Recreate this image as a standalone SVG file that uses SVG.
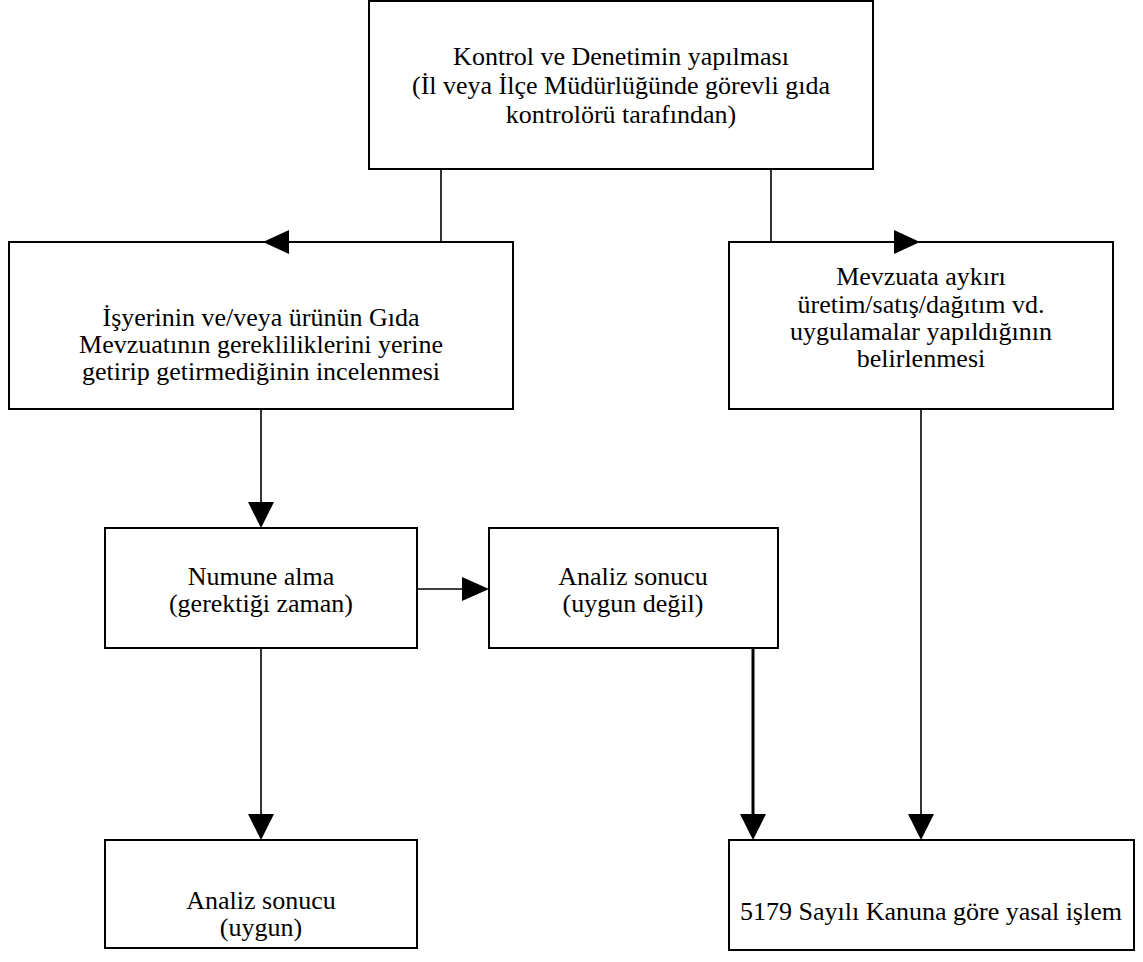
<svg xmlns="http://www.w3.org/2000/svg" width="1143" height="962" viewBox="0 0 1143 962">
  <defs>
    <style>
      .box { fill: #fff; stroke: #000; stroke-width: 2; }
      .lbl { font-family: "Liberation Serif", "Times New Roman", serif; font-size: 26px; fill: #000; text-anchor: middle; }
      .wire { fill: none; stroke: #000; stroke-width: 1.6; }
      .wire-bold { fill: none; stroke: #000; stroke-width: 3; }
      .head { fill: #000; stroke: none; }
    </style>
  </defs>

  <rect width="1143" height="962" fill="#fff"/>

  <g id="node-kontrol">
    <rect class="box" x="369" y="1" width="504" height="168"/>
    <text class="lbl" x="621" y="65">Kontrol ve Denetimin yapılması</text>
    <text class="lbl" x="621" y="94">(İl veya İlçe Müdürlüğünde görevli gıda</text>
    <text class="lbl" x="621" y="123">kontrolörü tarafından)</text>
  </g>

  <g id="node-inceleme">
    <rect class="box" x="9" y="242" width="504" height="167"/>
    <text class="lbl" x="261" y="326">İşyerinin ve/veya ürünün Gıda</text>
    <text class="lbl" x="261" y="353">Mevzuatının gerekliliklerini yerine</text>
    <text class="lbl" x="261" y="380">getirip getirmediğinin incelenmesi</text>
  </g>

  <g id="node-aykiri">
    <rect class="box" x="729" y="242" width="384" height="167"/>
    <text class="lbl" x="921" y="285">Mevzuata aykırı</text>
    <text class="lbl" x="921" y="313">üretim/satış/dağıtım vd.</text>
    <text class="lbl" x="921" y="340">uygulamalar yapıldığının</text>
    <text class="lbl" x="921" y="367">belirlenmesi</text>
  </g>

  <g id="node-numune">
    <rect class="box" x="105" y="528" width="312" height="120"/>
    <text class="lbl" x="261" y="585">Numune alma</text>
    <text class="lbl" x="261" y="612">(gerektiği zaman)</text>
  </g>

  <g id="node-uygun-degil">
    <rect class="box" x="489" y="528" width="289" height="120"/>
    <text class="lbl" x="633" y="585">Analiz sonucu</text>
    <text class="lbl" x="633" y="612">(uygun değil)</text>
  </g>

  <g id="node-uygun">
    <rect class="box" x="105" y="840" width="312" height="108"/>
    <text class="lbl" x="261" y="909">Analiz sonucu</text>
    <text class="lbl" x="261" y="936">(uygun)</text>
  </g>

  <g id="node-islem">
    <rect class="box" x="729" y="840" width="405" height="110"/>
    <text class="lbl" x="931" y="920">5179 Sayılı Kanuna göre yasal işlem</text>
  </g>

  <!-- connectors, drawn last so the arrowheads sit over the box borders -->
  <g id="connectors">
    <polyline class="wire" points="441,169 441,242 289,242"/>
    <polygon class="head" points="263,242 289,230 289,254"/>

    <polyline class="wire" points="771,169 771,242 894,242"/>
    <polygon class="head" points="920,242 894,230 894,254"/>

    <line class="wire" x1="261" y1="409" x2="261" y2="502"/>
    <polygon class="head" points="261,528 248,502 274,502"/>

    <line class="wire" x1="417" y1="589" x2="462" y2="589"/>
    <polygon class="head" points="489,589 462,577 462,601"/>

    <line class="wire" x1="261" y1="648" x2="261" y2="814"/>
    <polygon class="head" points="261,840 248,814 274,814"/>

    <line class="wire-bold" x1="753" y1="648" x2="753" y2="814"/>
    <polygon class="head" points="753,840 740,814 766,814"/>

    <line class="wire" x1="921" y1="409" x2="921" y2="814"/>
    <polygon class="head" points="921,840 908,814 934,814"/>
  </g>
</svg>
